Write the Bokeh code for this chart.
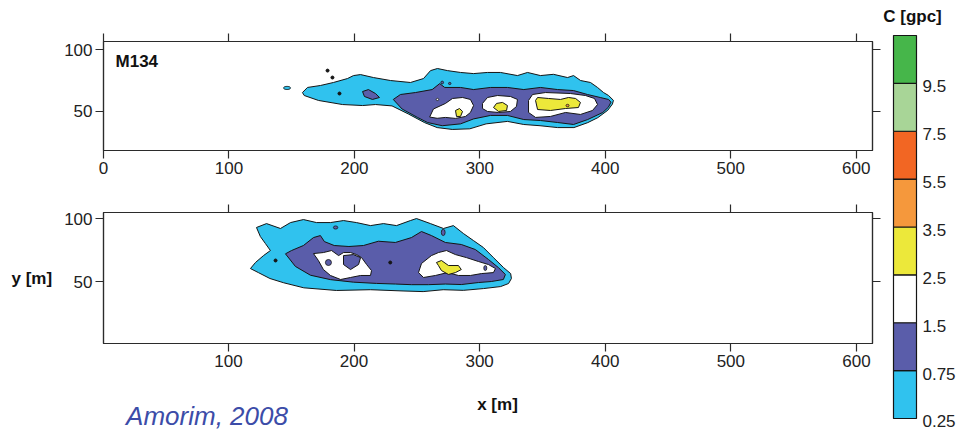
from bokeh.plotting import figure
from bokeh.layouts import row, column
from bokeh.models import FixedTicker, LinearAxis, Range1d
from bokeh.core.properties import value
from bokeh.embed import file_html
from bokeh.resources import INLINE

FONT = "Liberation Sans"
INK = "#2b2b2b"
EDGE = "#151515"

# ---------------- colour scale ----------------
LEVELS = ["0.25", "0.75", "1.5", "2.5", "3.5", "5.5", "7.5", "9.5"]
LEVEL_COLORS = ["#30C2EE", "#5A5DAA", "#FFFFFF", "#ECE83A", "#F5983C", "#F26623", "#A8D597", "#46B64A"]
CB_TITLE = "C [gpc]"

# ---------------- axes ----------------
X_TICKS = [0, 100, 200, 300, 400, 500, 600]
Y_TICKS = [50, 100]
PANEL_TAG = "M134"
X_LABEL = "x [m]"
Y_LABEL = "y [m]"
CREDIT = "Amorim, 2008"

# ---------------- top panel (M134) contour polygons ----------------
TOP_LB_X = [158.6, 162.6, 173.0, 183.3, 194.5, 199.3, 204.9, 215.2, 228.8, 244.7, 255.1, 260.7, 266.2, 274.2,
            284.6, 295.0, 306.0, 316.5, 330.0, 338.0, 348.3, 358.7, 369.9, 374.7, 380.3, 388.2, 393.8, 398.6,
            402.6, 406.5, 405.7, 402.0, 394.0, 386.0, 375.0, 362.0, 348.0, 335.0, 322.0, 305.0, 292.0, 278.0,
            266.0, 256.0, 243.0, 230.0, 216.8, 206.5, 190.5, 171.4, 160.0]
TOP_LB_Y = [65.3, 69.4, 71.0, 73.4, 76.6, 79.0, 79.8, 77.4, 75.0, 73.4, 76.6, 83.0, 84.7, 83.0,
            81.5, 80.6, 81.5, 81.5, 79.0, 81.5, 79.0, 80.0, 77.4, 79.0, 75.0, 73.4, 69.4, 65.3,
            62.9, 59.0, 56.0, 51.0, 45.0, 41.0, 37.0, 37.0, 38.5, 39.5, 42.0, 40.0, 36.0, 35.5,
            37.0, 41.0, 48.0, 54.5, 55.6, 54.8, 55.6, 58.9, 62.9]

TOP_DB_X = [231.0, 236.7, 248.7, 262.0, 268.0, 272.0, 284.6, 295.0, 308.5, 322.0, 335.0, 348.3, 362.0, 374.7,
            385.8, 396.0, 402.6, 404.5, 402.5, 398.0, 386.0, 374.7, 362.0, 348.3, 335.0, 322.0, 308.5, 295.0,
            284.6, 270.0, 258.3, 250.3, 238.0]
TOP_DB_Y = [59.7, 63.7, 65.3, 67.7, 72.5, 69.4, 69.4, 67.7, 69.4, 69.4, 67.7, 69.4, 67.7, 66.9,
            63.7, 61.3, 59.7, 57.5, 53.5, 49.2, 43.5, 39.5, 41.1, 42.7, 43.5, 46.8, 46.8, 44.0,
            40.0, 38.5, 41.1, 45.2, 52.0]

TOP_DB2_X = [206.5, 211.2, 216.8, 220.0, 214.4, 208.0]
TOP_DB2_Y = [66.1, 67.7, 64.5, 61.3, 59.7, 62.1]

TOP_W1_X = [260.0, 263.0, 272.6, 278.2, 286.2, 292.5, 295.0, 292.5, 288.6, 280.6, 272.6, 266.0]
TOP_W1_Y = [45.5, 52.0, 56.5, 60.5, 61.3, 59.7, 54.8, 49.2, 46.0, 44.4, 45.2, 44.5]
TOP_W2_X = [302.1, 306.1, 314.1, 324.4, 330.0, 329.2, 324.4, 314.9, 306.1, 302.1]
TOP_W2_Y = [56.5, 61.3, 62.9, 62.1, 59.7, 54.0, 50.0, 49.2, 50.0, 52.4]
TOP_W3_X = [338.8, 342.0, 352.3, 372.3, 384.2, 391.4, 393.8, 389.8, 380.2, 368.3, 356.3, 344.4, 338.8]
TOP_W3_Y = [58.9, 63.7, 65.3, 64.5, 62.9, 60.5, 55.6, 50.8, 47.6, 49.2, 46.0, 45.2, 49.2]

TOP_Y1_X = [280.6, 283.8, 286.2, 284.6, 281.4]
TOP_Y1_Y = [50.8, 52.4, 50.0, 46.0, 46.0]
TOP_Y2_X = [310.9, 313.3, 318.1, 322.0, 321.3, 314.9]
TOP_Y2_Y = [53.2, 56.5, 57.3, 54.8, 50.8, 50.0]
TOP_Y3_X = [344.4, 346.0, 354.7, 364.3, 370.7, 376.3, 380.2, 378.6, 368.3, 356.3, 346.0]
TOP_Y3_Y = [58.9, 61.3, 60.5, 59.7, 61.3, 60.5, 57.3, 53.2, 52.4, 50.8, 51.6]

# small isolated spots (x, y, width, height, colour level)
TOP_SPOT_X = [146.3, 266.2, 369.9, 270.0, 276.0]
TOP_SPOT_Y = [69.0, 59.7, 54.8, 73.4, 72.6]
TOP_SPOT_W = [5.6, 2.0, 2.4, 2.2, 2.0]
TOP_SPOT_H = [2.6, 1.8, 2.0, 2.2, 1.8]
TOP_SPOT_LVL = [0, 2, 4, 1, 1]
TOP_DOT_X = [188.1, 182.5, 178.6]
TOP_DOT_Y = [64.5, 77.4, 83.0]

# ---------------- bottom panel contour polygons ----------------
BOT_LB_X = [122.3, 130.3, 141.4, 149.4, 159.7, 170.1, 181.2, 191.6, 201.9, 213.1, 223.4, 233.8, 244.9, 249.7,
            260.8, 271.2, 279.1, 287.1, 295.1, 303.0, 311.0, 319.0, 324.7, 325.3, 323.0, 316.7, 303.0, 287.0,
            271.0, 255.0, 239.0, 213.0, 186.0, 160.0, 144.0, 133.0, 124.0, 117.5, 121.5, 127.9, 133.4, 129.4,
            125.4]
BOT_LB_Y = [92.9, 96.0, 92.1, 96.8, 99.2, 96.8, 96.8, 98.4, 96.8, 94.4, 96.0, 94.4, 98.4, 100.0,
            96.0, 92.1, 94.4, 88.1, 82.5, 77.0, 69.0, 61.1, 56.3, 52.4, 48.4, 46.0, 44.4, 43.0,
            43.5, 42.0, 42.5, 43.5, 42.9, 45.0, 49.0, 52.4, 57.0, 60.3, 65.1, 70.6, 74.6, 80.2,
            85.7]

BOT_DB_X = [145.4, 150.2, 159.7, 167.7, 173.2, 176.4, 184.2, 195.9, 207.5, 219.4, 232.9, 245.7, 253.7, 261.6,
            272.7, 285.4, 296.6, 307.0, 314.9, 320.5, 318.9, 309.3, 299.0, 285.4, 272.7, 259.2, 245.7, 232.9,
            217.8, 199.5, 181.2, 165.3, 153.3]
BOT_DB_Y = [72.0, 74.6, 78.6, 84.9, 86.5, 81.7, 78.6, 77.8, 78.6, 82.0, 81.0, 84.9, 89.7, 86.5,
            81.0, 79.4, 75.4, 67.5, 61.1, 55.6, 51.6, 50.0, 49.2, 47.6, 48.0, 47.5, 47.5, 48.0,
            48.5, 49.5, 51.5, 55.0, 62.0]

BOT_W1_X = [167.7, 175.6, 182.1, 187.7, 191.6, 197.2, 202.0, 206.0, 210.0, 213.9, 213.1, 205.2, 197.2, 189.3,
            181.2, 175.6, 171.6]
BOT_W1_Y = [72.2, 73.0, 74.6, 70.6, 73.0, 73.0, 71.4, 69.0, 63.5, 58.7, 54.8, 54.8, 53.2, 51.6,
            54.8, 59.5, 66.7]
BOT_DB2_X = [191.6, 199.5, 205.2, 203.6, 197.2, 191.6]
BOT_DB2_Y = [70.6, 71.4, 69.0, 63.5, 59.5, 63.5]

BOT_W2_X = [251.3, 253.7, 261.6, 267.2, 273.6, 280.7, 289.5, 299.0, 307.0, 312.6, 311.0, 301.4, 292.7, 283.1,
            274.4, 264.8, 255.3]
BOT_W2_Y = [57.1, 64.3, 70.6, 73.0, 74.6, 71.4, 69.0, 65.9, 63.5, 60.3, 57.1, 56.3, 54.8, 54.8,
            57.1, 54.8, 53.2]

BOT_Y1_X = [265.6, 269.6, 275.2, 283.1, 285.4, 280.7, 275.2, 269.6, 267.2]
BOT_Y1_Y = [65.1, 66.7, 62.7, 62.7, 59.5, 57.1, 55.6, 58.7, 62.7]

BOT_SPOT_X = [179.6, 304.5, 185.3, 271.0]
BOT_SPOT_Y = [65.1, 60.7, 92.9, 89.0]
BOT_SPOT_W = [4.8, 2.4, 3.5, 3.0]
BOT_SPOT_H = [4.8, 4.0, 2.5, 5.0]
BOT_SPOT_LVL = [1, 1, 1, 1]
BOT_DOT_X = [137.5, 228.8]
BOT_DOT_Y = [66.7, 65.1]

TOP_SHAPES = [(TOP_LB_X, TOP_LB_Y, 0), (TOP_DB_X, TOP_DB_Y, 1), (TOP_DB2_X, TOP_DB2_Y, 1),
              (TOP_W1_X, TOP_W1_Y, 2), (TOP_W2_X, TOP_W2_Y, 2), (TOP_W3_X, TOP_W3_Y, 2),
              (TOP_Y1_X, TOP_Y1_Y, 3), (TOP_Y2_X, TOP_Y2_Y, 3), (TOP_Y3_X, TOP_Y3_Y, 3)]
BOT_SHAPES = [(BOT_LB_X, BOT_LB_Y, 0), (BOT_DB_X, BOT_DB_Y, 1),
              (BOT_W1_X, BOT_W1_Y, 2), (BOT_DB2_X, BOT_DB2_Y, 1),
              (BOT_W2_X, BOT_W2_Y, 2), (BOT_Y1_X, BOT_Y1_Y, 3)]


def style_axis(ax, ticks, show_labels):
    ax.ticker = FixedTicker(ticks=ticks)
    ax.axis_line_color = INK
    ax.axis_line_width = 1.2
    ax.major_tick_line_color = INK
    ax.major_tick_line_width = 1.2
    ax.major_tick_in = 0
    ax.major_tick_out = 8
    ax.minor_tick_line_color = None
    ax.major_label_text_font = FONT
    if show_labels:
        ax.major_label_text_color = "#222222"
        ax.major_label_text_font_size = "17px"
        ax.major_label_standoff = 3
    else:
        ax.major_label_text_color = None
        ax.major_label_text_font_size = "1px"
        ax.major_label_standoff = 0


def make_panel(x_rng, y_rng, frame_h, b_left, b_top, b_bottom, b_right):
    p = figure(x_range=Range1d(*x_rng), y_range=Range1d(*y_rng),
               frame_width=769, frame_height=frame_h,
               min_border_left=b_left, min_border_right=b_right,
               min_border_top=b_top, min_border_bottom=b_bottom,
               x_axis_location=None, y_axis_location=None, title_location=None,
               output_backend="svg", toolbar_location=None)
    p.outline_line_color = INK
    p.outline_line_width = 1.2
    p.background_fill_color = "white"
    p.border_fill_color = "white"
    p.xgrid.visible = False
    p.ygrid.visible = False
    axes = {}
    for loc, ticks, lab in (("below", X_TICKS, True), ("above", X_TICKS, False),
                            ("left", Y_TICKS, True), ("right", Y_TICKS, False)):
        ax = LinearAxis()
        style_axis(ax, ticks, lab)
        p.add_layout(ax, loc)
        axes[loc] = ax
    return p, axes


def draw(p, shapes, sx, sy, sw, sh, slvl, dx, dy):
    p.patches(xs=[s[0] for s in shapes], ys=[s[1] for s in shapes],
              fill_color=[LEVEL_COLORS[s[2]] for s in shapes],
              line_color=EDGE, line_width=1.0)
    p.ellipse(x=sx, y=sy, width=sw, height=sh,
              fill_color=[LEVEL_COLORS[l] for l in slvl], line_color=EDGE, line_width=0.8)
    p.scatter(x=dx, y=dy, size=3, color=EDGE)


# ---- top panel ----
top, top_axes = make_panel((0, 613), (18.5, 106.5), 109, 103, 41, 36, 10)
draw(top, TOP_SHAPES, TOP_SPOT_X, TOP_SPOT_Y, TOP_SPOT_W, TOP_SPOT_H, TOP_SPOT_LVL, TOP_DOT_X, TOP_DOT_Y)
top.text(x=[9.6], y=[90.0], text=[PANEL_TAG], text_font=value(FONT), text_font_style="bold",
         text_font_size="17px", text_align="left", text_baseline="middle", text_color="#111111")

# ---- bottom panel ----
bot, bot_axes = make_panel((0.5, 612.8), (0.8, 104.8), 131, 100, 26, 36, 13)
draw(bot, BOT_SHAPES, BOT_SPOT_X, BOT_SPOT_Y, BOT_SPOT_W, BOT_SPOT_H, BOT_SPOT_LVL, BOT_DOT_X, BOT_DOT_Y)
yax = bot_axes["left"]
yax.axis_label = Y_LABEL
yax.axis_label_orientation = "horizontal"
yax.axis_label_text_font = FONT
yax.axis_label_text_font_style = "bold"
yax.axis_label_text_font_size = "17px"
yax.axis_label_text_color = "#111111"
yax.axis_label_standoff = 9

# ---- strip below the bottom panel: x label and credit (shares the x scale) ----
foot = figure(x_range=bot.x_range, y_range=Range1d(0, 51),
              frame_width=769, frame_height=51,
              min_border_left=100, min_border_right=13, min_border_top=0, min_border_bottom=0,
              x_axis_location=None, y_axis_location=None, title_location=None,
              output_backend="svg", toolbar_location=None)
foot.outline_line_color = None
foot.xgrid.visible = False
foot.ygrid.visible = False
foot.text(x=[314.2], y=[26.0], text=[X_LABEL], text_font=value(FONT), text_font_style="bold",
          text_font_size="17px", text_align="center", text_baseline="middle", text_color="#111111")
foot.text(x=[18.5], y=[15.0], text=[CREDIT], text_font=value(FONT), text_font_style="italic",
          text_font_size="26px", text_align="left", text_baseline="middle", text_color="#3C4CA8")

# ---------------- colour bar ----------------
n = len(LEVELS)
cb = figure(x_range=Range1d(-0.478, 2.913), y_range=Range1d(-0.2507, n + 0.731),
            frame_width=78, frame_height=430,
            min_border_left=0, min_border_right=0, min_border_top=0, min_border_bottom=0,
            x_axis_location=None, y_axis_location=None, title_location=None,
            output_backend="svg", toolbar_location=None)
cb.outline_line_color = None
cb.xgrid.visible = False
cb.ygrid.visible = False
cb.quad(left=0, right=1, bottom=list(range(n)), top=list(range(1, n + 1)),
        fill_color=LEVEL_COLORS, line_color=EDGE, line_width=1.2)
cb.text(x=[1.26] * n, y=list(range(n)), text=LEVELS, text_font=value(FONT), text_font_size="17px",
        text_align="left", text_baseline="middle", text_color="#222222", y_offset=3)
cb.text(x=[0.826], y=[n + 0.397], text=[CB_TITLE], text_font=value(FONT), text_font_style="bold",
        text_font_size="17px", text_align="center", text_baseline="middle", text_color="#111111")

layout = row(column(top, bot, foot), cb)
open("out.html", "w").write(file_html(layout, INLINE))
